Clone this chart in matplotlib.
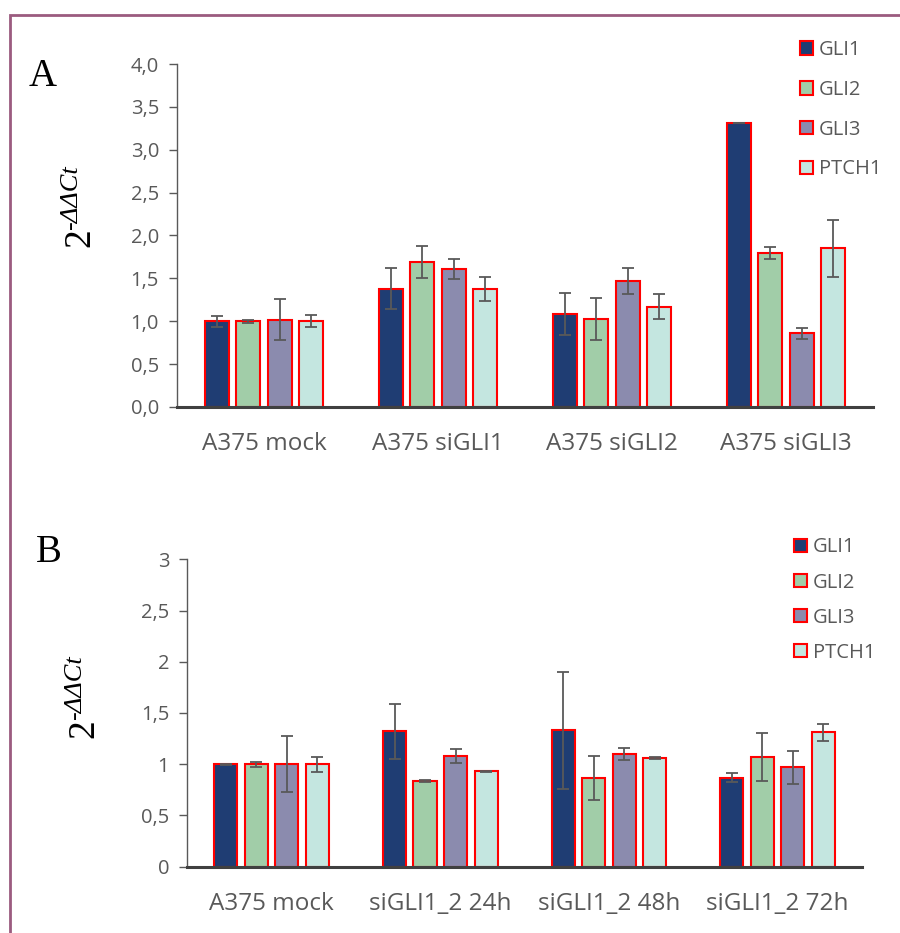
import numpy as np
import matplotlib.pyplot as plt
from matplotlib.patches import Rectangle

genes = ['GLI1', 'GLI2', 'GLI3', 'PTCH1']
colors = ['#1F3D73', '#A1CDA8', '#8B8BAE', '#C4E6E0']

cats_a = ['A375 mock', 'A375 siGLI1', 'A375 siGLI2', 'A375 siGLI3']
vals_a = [[1.00, 1.38, 1.09, 3.31],
          [1.00, 1.69, 1.03, 1.79],
          [1.02, 1.61, 1.47, 0.86],
          [1.00, 1.38, 1.17, 1.85]]
errs_a = [[0.065, 0.24, 0.245, 0.0],
          [0.02, 0.19, 0.245, 0.07],
          [0.24, 0.12, 0.155, 0.065],
          [0.07, 0.14, 0.145, 0.335]]

cats_b = ['A375 mock', 'siGLI1_2 24h', 'siGLI1_2 48h', 'siGLI1_2 72h']
vals_b = [[1.00, 1.32, 1.33, 0.87],
          [1.00, 0.84, 0.87, 1.07],
          [1.00, 1.08, 1.10, 0.97],
          [1.00, 0.93, 1.06, 1.31]]
errs_b = [[0.005, 0.265, 0.575, 0.04],
          [0.025, 0.01, 0.215, 0.23],
          [0.275, 0.065, 0.055, 0.16],
          [0.075, 0.005, 0.01, 0.087]]

plt.rcParams['font.family'] = ['Open Sans', 'DejaVu Sans']
grey = '#595959'
W, H = 900, 933

fig = plt.figure(figsize=(9, 9.33), dpi=100)

# frame around the figure
fig.patches.append(Rectangle((10 / W, -0.1), 1.2, 1 - 15 / H + 0.1,
                             transform=fig.transFigure, fill=False,
                             edgecolor='#9B5B7F', linewidth=2, clip_on=False))


def ylabel(x2, ybot2, xsup, ybotsup):
    # "2" with a raised italic "-ΔΔCt", written bottom-to-top
    fig.text(x2 / W, 1 - ybot2 / H, '2', family='Liberation Serif', fontsize=27,
             rotation=90, ha='center', va='bottom')
    fig.text(xsup / W, 1 - ybotsup / H, '-\u0394\u0394Ct', family='Liberation Serif',
             style='italic', fontsize=19, rotation=90, ha='center', va='bottom')


def draw_panel(ax, cats, vals, errs, ylim, yticks, yfmt, letter, lpos, leg_pos, spacing):
    x = np.arange(len(cats))
    for j, g in enumerate(genes):
        ax.bar(x + (j - 1.5) * 0.181, vals[j], width=0.137, color=colors[j],
               edgecolor='#FF0000', linewidth=1.5, label=g, zorder=2)
        ax.errorbar(x + (j - 1.5) * 0.181, vals[j], yerr=errs[j], fmt='none',
                    ecolor=grey, elinewidth=1.3, capsize=4.5, capthick=1.3, zorder=3)
    ax.set_xlim(-0.5, len(cats) - 0.5)
    ax.set_ylim(*ylim)
    ax.set_yticks(yticks)
    ax.set_yticklabels([yfmt(v) for v in yticks])
    ax.set_xticks(x)
    ax.set_xticklabels(cats, fontsize=17.5, color=grey)
    ax.tick_params(axis='x', length=0, pad=18)
    ax.tick_params(axis='y', length=6, width=1, color=grey, labelcolor=grey,
                   labelsize=14.5, pad=7, direction='out')
    for s in ['top', 'right']:
        ax.spines[s].set_visible(False)
    ax.spines['left'].set_color(grey)
    ax.spines['left'].set_linewidth(1)
    ax.spines['bottom'].set_color('#404040')
    ax.spines['bottom'].set_linewidth(2.2)
    ax.spines['bottom'].set_zorder(4)
    fig.text(lpos[0], lpos[1], letter, fontsize=28, family='Liberation Serif',
             ha='left', va='center')
    ax.legend(loc='upper left', bbox_to_anchor=leg_pos, bbox_transform=fig.transFigure,
              frameon=False, fontsize=14.5, labelcolor=grey, handlelength=0.65,
              handleheight=0.65, handletextpad=0.3, labelspacing=spacing,
              borderaxespad=0, borderpad=0)


ax_a = fig.add_axes([0.1967, 0.5638, 0.7733, 0.3676])
draw_panel(ax_a, cats_a, vals_a, errs_a, (0, 4), np.arange(0, 4.01, 0.5),
           lambda v: f'{v:.1f}'.replace('.', ','), 'A', (0.032, 0.918),
           (0.889, 0.957), 0.98)
ylabel(80, 247, 71, 230)

ax_b = fig.add_axes([0.2081, 0.0711, 0.7497, 0.3294])
draw_panel(ax_b, cats_b, vals_b, errs_b, (0, 3), np.arange(0, 3.01, 0.5),
           lambda v: f'{v:g}'.replace('.', ','), 'B', (0.040, 0.408),
           (0.882, 0.424), 0.75)
ylabel(84, 738, 75, 720)

fig.savefig('out.png', dpi=100)
